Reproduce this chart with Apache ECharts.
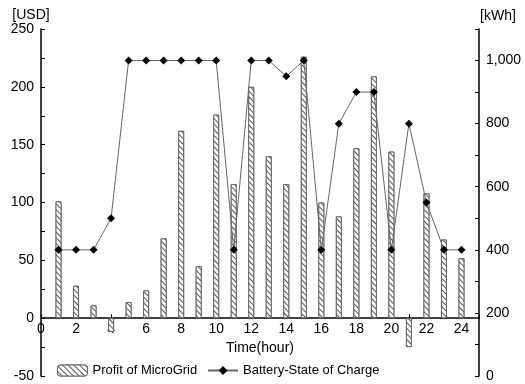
<!DOCTYPE html>
<html>
<head>
<meta charset="utf-8">
<script src="https://cdn.jsdelivr.net/npm/echarts@6/dist/echarts.min.js"></script>
<style>
  html, body { margin: 0; padding: 0; background: #fff; }
  #chart { width: 525px; height: 384px; }
</style>
</head>
<body>
<div id="chart"></div>
<script>
// Hours of the day
const hours = [1, 2, 3, 4, 5, 6, 7, 8, 9, 10, 11, 12, 13, 14, 15, 16, 17, 18, 19, 20, 21, 22, 23, 24];
// Hourly profit of the microgrid [USD]
const profit = [101, 28, 11, -12, 14, 24, 69, 162, 45, 176, 116, 200, 140, 116, 226, 100, 88, 147, 209, 144, -25, 108, 68, 52];
// Battery state of charge [kWh]
const soc = [400, 400, 400, 500, 1000, 1000, 1000, 1000, 1000, 1000, 400, 1000, 1000, 950, 1000, 400, 800, 900, 900, 400, 800, 550, 400, 400];
// Axis text
const xLabels = [0, 2, 4, 6, 8, 10, 12, 14, 16, 18, 20, 22, 24];
const usdLabels = [-50, 0, 50, 100, 150, 200, 250];
const kwhLabels = [0, 200, 400, 600, 800, 1000];

const font = 'Liberation Sans, Arial, sans-serif';

const chart = echarts.init(document.getElementById('chart'), null, { renderer: 'canvas' });

const hatch = {
  symbol: 'rect',
  symbolSize: 1,
  color: '#555',
  backgroundColor: '#fff',
  dashArrayX: [1, 0],
  dashArrayY: [1, 3],
  rotation: Math.PI / 4
};

const GRID_TOP = 29, GRID_BOTTOM = 8, CHART_H = 384;
const USD_MIN = -50, USD_MAX = 250;
// the time axis runs along USD = 0, so shift it up from the grid bottom
const plotH = CHART_H - GRID_TOP - GRID_BOTTOM;
const zeroOffset = -plotH * (0 - USD_MIN) / (USD_MAX - USD_MIN);

chart.setOption({
  animation: false,
  backgroundColor: '#fff',
  textStyle: { fontFamily: font, color: '#000' },
  grid: { left: 41, right: 46, top: GRID_TOP, bottom: GRID_BOTTOM, containLabel: false, outerBoundsMode: 'none' },
  legend: [
    {
      data: ['Profit of MicroGrid'],
      left: 52, top: 359,
      itemWidth: 30, itemHeight: 11,
      textStyle: { fontFamily: font, fontSize: 13, color: '#000' },
      itemStyle: { borderColor: '#666', borderWidth: 1 }
    },
    {
      data: ['Battery-State of Charge'],
      left: 202, top: 359,
      itemWidth: 30, itemHeight: 11,
      textStyle: { fontFamily: font, fontSize: 13, color: '#000' }
    }
  ],
  xAxis: {
    type: 'value',
    min: 0, max: 25, interval: 1,
    position: 'bottom',
    offset: zeroOffset,
    name: 'Time(hour)',
    nameLocation: 'middle',
    nameGap: 22,
    nameTextStyle: { fontFamily: font, fontSize: 14, color: '#000' },
    axisLine: { onZero: false, lineStyle: { color: '#000', width: 1.5 } },
    axisTick: { inside: true, length: 4, lineStyle: { color: '#000' } },
    axisLabel: {
      fontFamily: font, fontSize: 14, color: '#000', margin: 4,
      formatter: v => (xLabels.indexOf(v) >= 0 ? String(v) : '')
    },
    splitLine: { show: false }
  },
  yAxis: [
    {
      type: 'value',
      min: USD_MIN, max: USD_MAX, interval: 25,
      name: '[USD]',
      nameLocation: 'end',
      nameGap: 6,
      nameTextStyle: { fontFamily: font, fontSize: 14, color: '#000', padding: [0, 20, 0, 0] },
      axisLine: { show: true, lineStyle: { color: '#000', width: 1.5 } },
      axisTick: { show: true, inside: true, length: 4, lineStyle: { color: '#000' } },
      axisLabel: {
        fontFamily: font, fontSize: 14, color: '#000', margin: 7,
        formatter: v => (usdLabels.indexOf(v) >= 0 ? String(v) : '')
      },
      splitLine: { show: false }
    },
    {
      type: 'value',
      min: 0, max: 1100, interval: 100,
      position: 'right',
      name: '[kWh]',
      nameLocation: 'end',
      nameGap: 6,
      nameTextStyle: { fontFamily: font, fontSize: 14, color: '#000', padding: [0, 0, 0, 38] },
      axisLine: { show: true, lineStyle: { color: '#000', width: 1.5 } },
      axisTick: { show: true, inside: true, length: 4, lineStyle: { color: '#000' } },
      axisLabel: {
        fontFamily: font, fontSize: 14, color: '#000', margin: 7,
        formatter: v => (kwhLabels.indexOf(v) >= 0 ? v.toLocaleString('en-US') : '')
      },
      splitLine: { show: false }
    }
  ],
  series: [
    {
      name: 'Profit of MicroGrid',
      type: 'bar',
      yAxisIndex: 0,
      barWidth: 6,
      data: hours.map((h, i) => [h, profit[i]]),
      itemStyle: { color: '#fff', borderColor: '#666', borderWidth: 1, decal: hatch },
      z: 2
    },
    {
      name: 'Battery-State of Charge',
      type: 'line',
      yAxisIndex: 1,
      data: hours.map((h, i) => [h, soc[i]]),
      symbol: 'diamond',
      symbolSize: 8,
      itemStyle: { color: '#000' },
      lineStyle: { color: '#666', width: 1 },
      z: 3
    }
  ]
});
</script>
</body>
</html>
